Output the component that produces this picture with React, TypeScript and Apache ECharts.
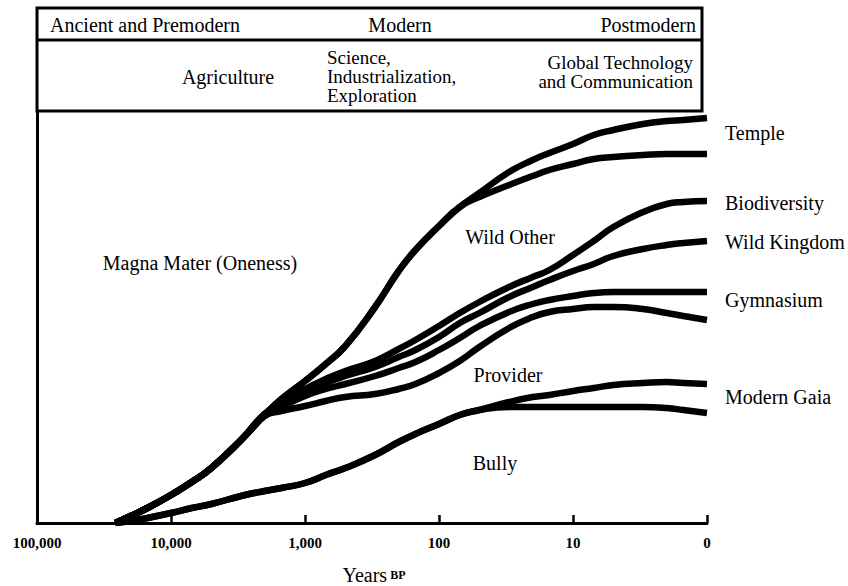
import React, { useEffect, useRef } from "react";
import * as echarts from "echarts";

// Years before present (log-scaled time axis; 1 is drawn as "0")
const YEARS_BP = [26000, 20000, 15000, 10000, 7000, 5000, 3000, 2000, 1500, 1000, 700, 500, 300, 200, 150, 100, 70, 50, 30, 20, 15, 10, 7, 5, 3, 2, 1.5, 1];

// Relative height of each trajectory (arbitrary units)
const TEMPLE_UPPER = [0, 7, 15, 28, 41, 55, 83, 108, 124, 142, 159, 177, 216, 252, 273, 297, 316, 330, 351, 363, 370, 379, 388, 393, 399, 402, 403, 405];
const TEMPLE_LOWER = [0, 7, 15, 28, 41, 55, 83, 108, 124, 142, 159, 177, 216, 252, 273, 297, 316, 326, 338, 347, 353, 359, 364, 366, 368, 369, 369, 369];
const BIODIVERSITY = [0, 7, 15, 28, 41, 55, 83, 109, 120, 134, 144, 152, 162, 174, 183, 197, 210, 221, 236, 246, 253, 268, 282, 296, 311, 319, 321, 322];
const WILD_KINGDOM = [0, 7, 15, 28, 41, 55, 83, 109, 118, 131, 140, 147, 156, 166, 173, 186, 200, 210, 226, 236, 243, 252, 259, 267, 274, 278, 280, 282];
const GYMNASIUM_UPPER = [0, 7, 15, 28, 41, 55, 83, 108, 116, 127, 134, 139, 147, 155, 161, 173, 185, 197, 211, 219, 223, 227, 230, 231, 231, 231, 231, 231];
const GYMNASIUM_LOWER = [0, 7, 15, 28, 41, 55, 83, 107, 112, 117, 122, 126, 129, 134, 139, 150, 162, 176, 195, 206, 211, 214, 216, 216, 214, 210, 207, 203];
const GAIA_UPPER = [0, 2, 5, 10, 15, 19, 27, 32, 35, 40, 48, 55, 68, 81, 89, 99, 108, 113, 121, 126, 128, 132, 135, 138, 140, 141, 140, 139];
const GAIA_LOWER = [0, 2, 5, 10, 15, 19, 27, 32, 35, 40, 48, 55, 68, 81, 89, 99, 108, 113, 116, 116, 116, 116, 116, 116, 116, 115, 113, 110];

const CURVES = [TEMPLE_UPPER, TEMPLE_LOWER, BIODIVERSITY, WILD_KINGDOM, GYMNASIUM_UPPER, GYMNASIUM_LOWER, GAIA_UPPER, GAIA_LOWER];

const TICK_LABELS: Record<number, string> = {
  1: "0",
  10: "10",
  100: "100",
  1000: "1,000",
  10000: "10,000",
  100000: "100,000",
};

const ERA_LABELS = ["Ancient and Premodern", "Modern", "Postmodern"];
const TECH_LABELS = ["Agriculture", "Science,\nIndustrialization,\nExploration", "Global Technology\nand Communication"];
const END_LABELS = ["Temple", "Biodiversity", "Wild Kingdom", "Gymnasium", "Modern Gaia"];
const REGION_LABELS = ["Magna Mater (Oneness)", "Wild Other", "Provider", "Bully"];

const FONT = "Liberation Serif, Times New Roman, serif";

function txt(text: string, x: number, y: number, align = "left", extra: any = {}) {
  return {
    type: "text",
    x,
    y,
    z: 20,
    style: {
      text,
      fontFamily: FONT,
      fontSize: 20,
      fill: "#000",
      align,
      verticalAlign: "middle",
      textAlign: align,
      textVerticalAlign: "middle",
      ...extra,
    },
  };
}

export default function App() {
  const ref = useRef<HTMLDivElement>(null);

  useEffect(() => {
    const chart = echarts.init(ref.current!, null, { renderer: "svg" });

    const series = CURVES.map((arr) => ({
      type: "line",
      data: YEARS_BP.map((y, i) => [y, arr[i]]),
      smooth: 0.5,
      symbol: "none",
      showSymbol: false,
      silent: true,
      clip: true,
      lineStyle: { color: "#000", width: 6.5, cap: "butt" },
    }));

    const option: any = {
      animation: false,
      backgroundColor: "#fff",
      grid: { left: 37, right: 141, top: 112, bottom: 63 },
      xAxis: {
        type: "log",
        logBase: 10,
        min: 1,
        max: 100000,
        inverse: true,
        splitNumber: 5,
        axisLine: { show: true, lineStyle: { color: "#000", width: 3 } },
        axisTick: { show: true, inside: true, length: 8, lineStyle: { color: "#000", width: 2.5 } },
        minorTick: { show: false },
        splitLine: { show: false },
        axisLabel: {
          show: true,
          showMinLabel: true,
          showMaxLabel: true,
          margin: 12,
          color: "#000",
          fontFamily: FONT,
          fontSize: 15,
          fontWeight: "bold",
          formatter: (v: number) => {
            const r = Math.round(v);
            return TICK_LABELS[r] ?? "";
          },
        },
      },
      yAxis: {
        type: "value",
        min: 0,
        max: 411,
        axisLine: { show: true, lineStyle: { color: "#000", width: 3 } },
        axisTick: { show: false },
        axisLabel: { show: false },
        splitLine: { show: false },
      },
      series,
      graphic: [
        {
          type: "rect",
          z: 15,
          shape: { x: 37, y: 8, width: 665, height: 103 },
          style: { fill: "none", stroke: "#000", lineWidth: 3 },
        },
        {
          type: "line",
          z: 15,
          shape: { x1: 37, y1: 40, x2: 702, y2: 40 },
          style: { stroke: "#000", lineWidth: 3 },
        },
        txt(ERA_LABELS[0], 50, 25, "left"),
        txt(ERA_LABELS[1], 400, 25, "center"),
        txt(ERA_LABELS[2], 696, 25, "right"),
        txt(TECH_LABELS[0], 228, 77, "center"),
        txt(TECH_LABELS[1], 327, 76.5, "left", { fontSize: 19, lineHeight: 19 }),
        txt(TECH_LABELS[2], 693, 72, "right", { fontSize: 19, lineHeight: 19 }),
        txt(REGION_LABELS[0], 200, 263, "center"),
        txt(REGION_LABELS[1], 510, 237, "center"),
        txt(REGION_LABELS[2], 508, 375, "center"),
        txt(REGION_LABELS[3], 495, 463, "center"),
        txt(END_LABELS[0], 725, 133, "left"),
        txt(END_LABELS[1], 725, 203, "left"),
        txt(END_LABELS[2], 725, 242, "left"),
        txt(END_LABELS[3], 725, 300, "left"),
        txt(END_LABELS[4], 725, 397, "left"),
        {
          type: "text",
          x: 374,
          y: 575,
          z: 20,
          style: {
            text: "{a|Years} {b|BP}",
            align: "center",
            verticalAlign: "middle",
            textAlign: "center",
            textVerticalAlign: "middle",
            fill: "#000",
            fontFamily: FONT,
            rich: {
              a: { fontFamily: FONT, fontSize: 20, lineHeight: 18, fill: "#000", color: "#000" },
              b: { fontFamily: FONT, fontSize: 12, lineHeight: 18, fontWeight: "bold", fill: "#000", color: "#000" },
            },
          },
        },
      ],
    };

    chart.setOption(option);
    return () => chart.dispose();
  }, []);

  return (
    <div
      ref={ref}
      style={{ position: "fixed", left: 0, top: 0, width: 848, height: 586, background: "#fff" }}
    />
  );
}
